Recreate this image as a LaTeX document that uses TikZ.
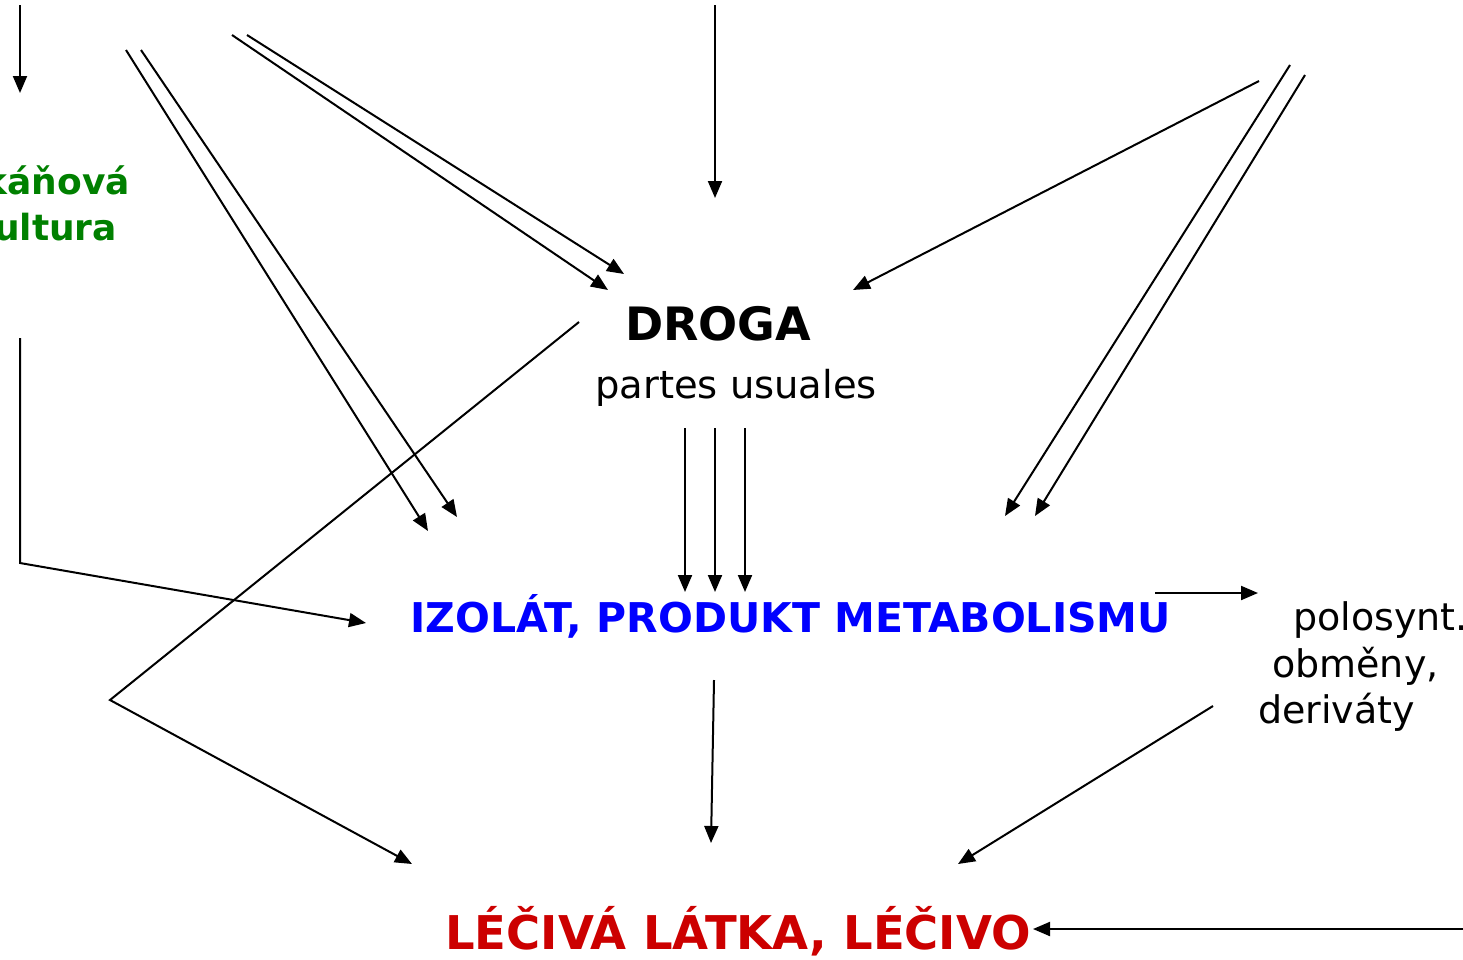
\documentclass[tikz,border=0pt]{standalone}
\usepackage{fontspec}
\setmainfont{DejaVu Sans}
\usetikzlibrary{arrows.meta,positioning}

\definecolor{zelena}{RGB}{0,128,0}
\definecolor{modra}{RGB}{0,0,255}
\definecolor{cervena}{RGB}{204,0,0}

\tikzset{
  sipka/.style={-{Triangle[length=17pt,width=14pt]}, line width=2pt},
  popis/.style={inner sep=0pt, anchor=base west}
}

\begin{document}
\begin{tikzpicture}[x=1pt, y=-1pt]
    \useasboundingbox (0,0) rectangle (1463,959);
    \clip (0,0) rectangle (1463,959);

    % Texty
    \node[popis, text=zelena, font=\fontsize{36}{40}\selectfont\bfseries] (tkan1) at (-41,194) {Tkáňová};
    \node[popis, text=zelena, font=\fontsize{36}{40}\selectfont\bfseries] (tkan2) at (-30,240) {kultura};
    \node[popis, font=\fontsize{46}{50}\selectfont\bfseries] (droga) at (625,340) {DROGA};
    \node[popis, font=\fontsize{38.5}{42}\selectfont] (partes) at (595,398) {partes usuales};
    \node[popis, text=modra, font=\fontsize{41}{44}\selectfont\bfseries] (izolat) at (410,632) {IZOLÁT, PRODUKT METABOLISMU};
    \node[popis, text=cervena, font=\fontsize{46.5}{50}\selectfont\bfseries] (lecivo) at (445,949) {LÉČIVÁ LÁTKA, LÉČIVO};
    \node[popis, font=\fontsize{38}{42}\selectfont] (polo1) at (1293,630) {polosynt.};
    \node[popis, font=\fontsize{38}{42}\selectfont] (polo2) at (1272,677) {obměny,};
    \node[popis, font=\fontsize{38}{42}\selectfont] (polo3) at (1258,723) {deriváty};

    % Volne konce
    \coordinate (a1) at (20,5);      \coordinate (a2) at (20,93);
    \coordinate (b1) at (126,50);    \coordinate (b2) at (428,531);
    \coordinate (c1) at (141,50);    \coordinate (c2) at (457,517);
    \coordinate (d1) at (232,35);    \coordinate (d2) at (608,290);
    \coordinate (e1) at (247,35);    \coordinate (e2) at (624,274);
    \coordinate (f1) at (715,5);     \coordinate (f2) at (715,198);
    \coordinate (g1) at (1259,81);   \coordinate (g2) at (853,290);
    \coordinate (h1) at (1290,65);   \coordinate (h2) at (1005,516);
    \coordinate (i1) at (1305,75);   \coordinate (i2) at (1035,516);
    \coordinate (k1) at (20,338);    \coordinate (k2) at (20,563);   \coordinate (k3) at (366,623);
    \coordinate (m1) at (579,322);   \coordinate (m2) at (110,700);  \coordinate (m3) at (412,864);
    \coordinate (n1) at (1155,593);  \coordinate (n2) at (1258,593);
    \coordinate (p1) at (714,680);   \coordinate (p2) at (711,843);
    \coordinate (q1) at (1213,706);  \coordinate (q2) at (958,864);
    \coordinate (r1) at (1463,929);  \coordinate (r2) at (1033,929);

    % Sipky
    \draw[sipka] (a1) -- (a2);
    \draw[sipka] (b1) -- (b2);
    \draw[sipka] (c1) -- (c2);
    \draw[sipka] (d1) -- (d2);
    \draw[sipka] (e1) -- (e2);
    \draw[sipka] (f1) -- (f2);
    \draw[sipka] (g1) -- (g2);
    \draw[sipka] (h1) -- (h2);
    \draw[sipka] (i1) -- (i2);
    \foreach \x in {685,715,745}
        \draw[sipka] (\x,428) -- (\x,592);
    \draw[sipka] (k1) -- (k2) -- (k3);
    \draw[sipka] (m1) -- (m2) -- (m3);
    \draw[sipka] (n1) -- (n2);
    \draw[sipka] (p1) -- (p2);
    \draw[sipka] (q1) -- (q2);
    \draw[sipka] (r1) -- (r2);
\end{tikzpicture}
\end{document}
